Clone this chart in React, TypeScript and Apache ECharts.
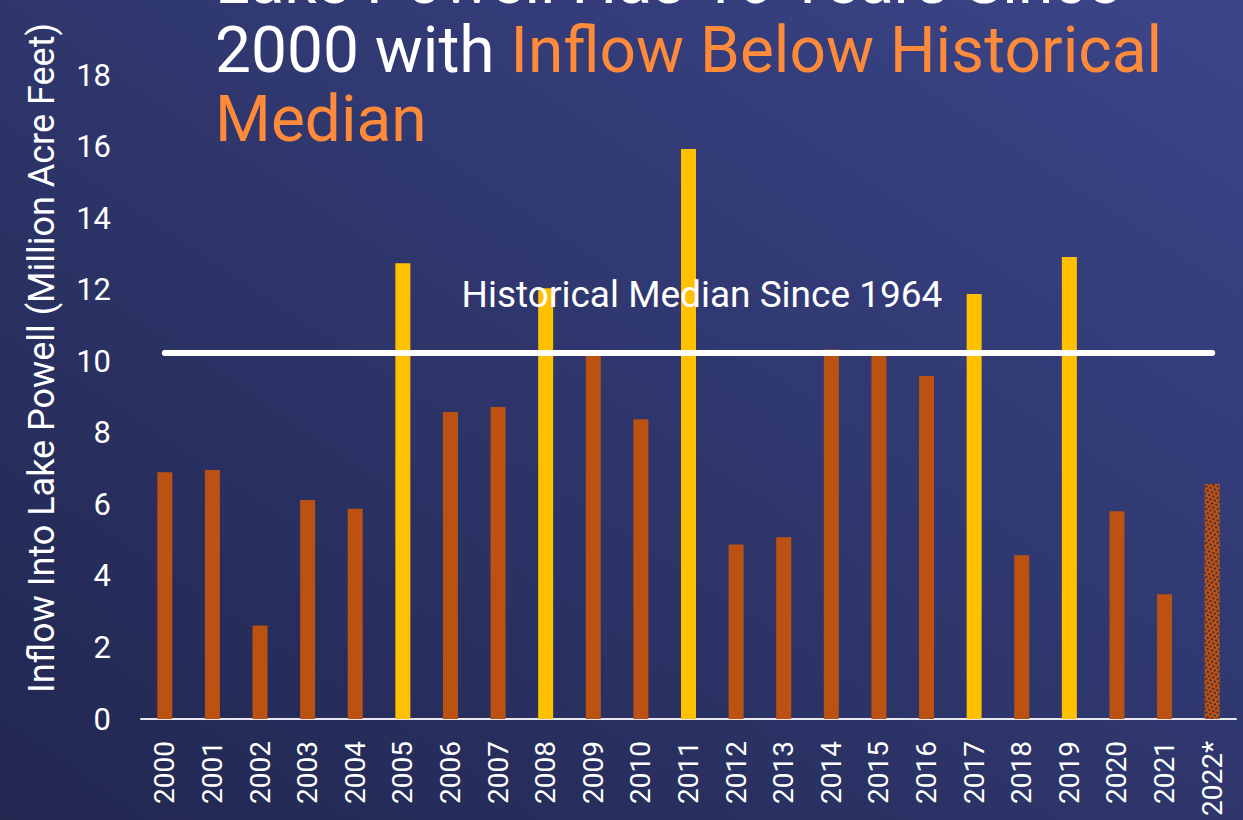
import React, { useEffect, useRef } from "react";
import * as echarts from "echarts";

const years = ["2000","2001","2002","2003","2004","2005","2006","2007","2008","2009","2010","2011","2012","2013","2014","2015","2016","2017","2018","2019","2020","2021","2022*"];
const inflow = [6.90,6.96,2.61,6.12,5.88,12.74,8.58,8.72,12.04,10.27,8.38,15.93,4.88,5.08,10.33,10.15,9.59,11.88,4.58,12.91,5.81,3.49,6.57];
const aboveMedianYears = ["2005","2008","2011","2017","2019"];
const projectedYears = ["2022*"];
const historicalMedian = 10.25;
const yTicks = { min: 0, max: 18, interval: 2 };
const titleLines = ["Lake Powell Has 16 Years Since", "2000 with ", "Inflow Below Historical", "Median"];
const medianLabel = "Historical Median Since 1964";
const yAxisTitle = "Inflow Into Lake Powell (Million Acre Feet)";

const ORANGE = "#BC5211";
const YELLOW = "#FFC000";
const FONT = "Roboto";

export default function App() {
  const ref = useRef<HTMLDivElement>(null);
  useEffect(() => {
    if (!ref.current) return;
    const chart = echarts.init(ref.current, null, { renderer: "svg" });
    const data = years.map((y, i) => {
      const item: any = { value: inflow[i] };
      if (aboveMedianYears.includes(y)) {
        item.itemStyle = { color: YELLOW, borderWidth: 0 };
      } else if (projectedYears.includes(y)) {
        item.itemStyle = {
          color: ORANGE,
          borderWidth: 0,
          decal: {
            symbol: "rect",
            symbolSize: 1,
            dashArrayX: [[2, 2], [0, 2, 2, 0]],
            dashArrayY: [2, 2],
            rotation: -Math.PI / 4,
            color: "rgba(35,40,80,0.85)",
          },
        };
      }
      return item;
    });
    chart.setOption({
      animation: false,
      backgroundColor: new echarts.graphic.LinearGradient(1, 0, 0, 1, [
        { offset: 0, color: "#3b4589" },
        { offset: 1, color: "#21274f" },
      ]),
      grid: { left: 141, right: 7, top: 75, bottom: 101, containLabel: false },
      xAxis: {
        type: "category",
        data: years,
        axisLine: { show: true, lineStyle: { color: "#e8e8f0", width: 2 } },
        axisTick: { show: false },
        axisLabel: { rotate: 90, color: "#ffffff", fontFamily: FONT, fontSize: 28, margin: 22, interval: 0 },
      },
      yAxis: {
        type: "value",
        min: yTicks.min,
        max: yTicks.max,
        interval: yTicks.interval,
        splitLine: { show: false },
        axisLine: { show: false },
        axisTick: { show: false },
        axisLabel: { color: "#ffffff", fontFamily: FONT, fontSize: 31, margin: 30 },
      },
      series: [
        {
          type: "bar",
          data,
          barWidth: 15,
          itemStyle: { color: ORANGE },
          markLine: {
            silent: true,
            symbol: "none",
            label: { show: false },
            lineStyle: { color: "#ffffff", width: 6, type: "solid", cap: "round" },
            data: [[{ coord: [years[0], historicalMedian] }, { coord: [years[years.length - 1], historicalMedian] }]],
          },
        },
      ],
      graphic: [
        {
          type: "text",
          x: 215,
          y: -19,
          z: 100,
          style: { text: titleLines[0], fill: "#ffffff", font: `64px ${FONT}`, verticalAlign: "middle", align: "left" },
        },
        {
          type: "text",
          x: 215,
          y: 50,
          z: 100,
          style: {
            text: `{w|${titleLines[1]}}{o|${titleLines[2]}}`,
            verticalAlign: "middle",
            align: "left",
            rich: {
              w: { fill: "#ffffff", fontFamily: FONT, fontSize: 64 },
              o: { fill: "#FF8A3A", fontFamily: FONT, fontSize: 64 },
            },
          },
        },
        {
          type: "text",
          x: 215,
          y: 119,
          z: 100,
          style: { text: titleLines[3], fill: "#FF8A3A", font: `64px ${FONT}`, verticalAlign: "middle", align: "left" },
        },
        {
          type: "text",
          x: 702,
          y: 294,
          z: 100,
          style: { text: medianLabel, fill: "#ffffff", font: `37px ${FONT}`, verticalAlign: "middle", align: "center" },
        },
        {
          type: "text",
          x: 42,
          y: 358,
          z: 100,
          rotation: Math.PI / 2,
          style: { text: yAxisTitle, fill: "#ffffff", font: `36px ${FONT}`, verticalAlign: "middle", align: "center" },
        },
      ],
    });
    return () => chart.dispose();
  }, []);
  return <div ref={ref} style={{ width: 1243, height: 820, position: "fixed", left: 0, top: 0 }} />;
}
